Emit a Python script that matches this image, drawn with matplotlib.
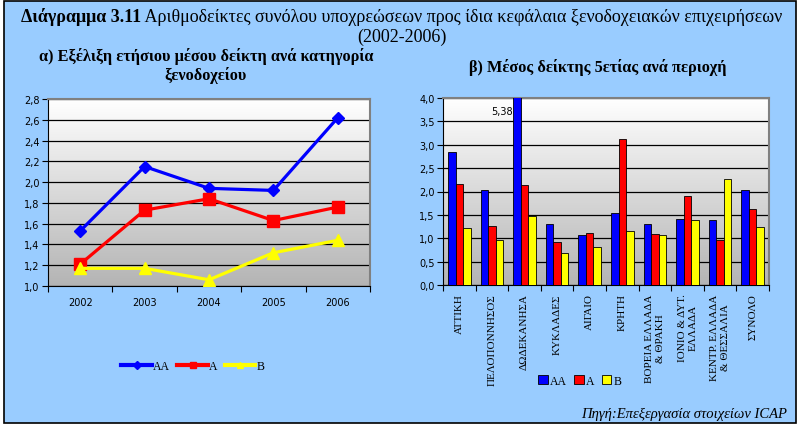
import numpy as np
import matplotlib
matplotlib.use("Agg")
import matplotlib.pyplot as plt
from matplotlib.lines import Line2D
from matplotlib.patches import Patch, Rectangle

years = ["2002", "2003", "2004", "2005", "2006"]
aa_years = [1.53, 2.15, 1.94, 1.92, 2.62]
a_years = [1.21, 1.73, 1.84, 1.63, 1.76]
b_years = [1.17, 1.17, 1.06, 1.32, 1.44]

regions = ["ΑΤΤΙΚΗ", "ΠΕΛΟΠΟΝΝΗΣΟΣ", "ΔΩΔΕΚΑΝΗΣΑ", "ΚΥΚΛΑΔΕΣ", "ΑΙΓΑΙΟ", "ΚΡΗΤΗ",
           "ΒΟΡΕΙΑ ΕΛΛΑΔΑ\n& ΘΡΑΚΗ", "ΙΟΝΙΟ & ΔΥΤ.\nΕΛΛΑΔΑ",
           "ΚΕΝΤΡ. ΕΛΛΑΔΑ\n& ΘΕΣΣΑΛΙΑ", "ΣΥΝΟΛΟ"]
aa_reg = [2.84, 2.03, 5.38, 1.30, 1.07, 1.54, 1.30, 1.41, 1.38, 2.03]
a_reg = [2.17, 1.26, 2.14, 0.93, 1.11, 3.12, 1.09, 1.91, 0.96, 1.63]
b_reg = [1.21, 0.96, 1.48, 0.68, 0.81, 1.16, 1.08, 1.40, 2.27, 1.23]

BG = "#99CCFF"
BLUE = "#0000FF"
RED = "#FF0000"
YELLOW = "#FFFF00"
SERIF = "Liberation Serif"

W, H = 803, 431
fig = plt.figure(figsize=(W / 100, H / 100), dpi=100)
fig.patch.set_facecolor("white")

# blue panel with black border, behind everything
fig.patches.append(Rectangle((4 / W, 1 - 424 / H), 792 / W, 422 / H,
                             transform=fig.transFigure, facecolor=BG,
                             edgecolor="black", lw=1.2, zorder=-10))

grad = np.linspace(1, 0, 256).reshape(-1, 1)
cmap = matplotlib.colors.LinearSegmentedColormap.from_list("g", ["#B4B4B4", "#FFFFFF"])


def style_axes(ax):
    ax.imshow(grad, cmap=cmap, extent=[0, 1, 0, 1], transform=ax.transAxes,
              aspect="auto", zorder=0, vmin=0, vmax=1)
    ax.set_facecolor("white")
    ax.yaxis.grid(True, color="black", lw=0.9, zorder=1)
    ax.set_axisbelow(True)
    for s in ["top", "right"]:
        ax.spines[s].set_color("#808080")
        ax.spines[s].set_linewidth(1.5)
    for s in ["left", "bottom"]:
        ax.spines[s].set_color("black")
    ax.tick_params(axis="both", which="both", length=4, width=0.8, labelsize=7, pad=2)


# left chart
ax1 = fig.add_axes([48 / W, 1 - 287 / H, 322 / W, 187 / H])
style_axes(ax1)
x = np.arange(len(years))
ax1.plot(x, aa_years, color=BLUE, lw=2.3, marker="D", ms=6.5, zorder=3, label="AA")
ax1.plot(x, a_years, color=RED, lw=2.3, marker="s", ms=8, zorder=3, label="A")
ax1.plot(x, b_years, color=YELLOW, lw=2.3, marker="^", ms=8, zorder=3, label="B")
ax1.set_xlim(-0.5, len(years) - 0.5)
ax1.set_ylim(1.0, 2.8)
ax1.set_yticks(np.arange(1.0, 2.81, 0.2))
ax1.set_yticklabels([f"{v:.1f}".replace(".", ",") for v in np.arange(1.0, 2.81, 0.2)])
ax1.set_xticks(x)
ax1.set_xticklabels(years)
ax1.set_xticks(np.arange(-0.5, len(years), 1), minor=True)
ax1.tick_params(axis="x", which="major", length=0, pad=8)
ax1.tick_params(axis="x", which="minor", length=4)

fig.legend(handles=[
    Line2D([], [], color=BLUE, lw=3, marker="D", ms=4),
    Line2D([], [], color=RED, lw=3, marker="s", ms=5),
    Line2D([], [], color=YELLOW, lw=3, marker="^", ms=5)],
    labels=["AA", "A", "B"], loc="center", bbox_to_anchor=(193 / W, 1 - 367 / H),
    ncol=3, frameon=False, handlelength=2.6, handletextpad=0.1, columnspacing=0.6,
    prop={"family": SERIF, "size": 8.5})

# right chart
ax2 = fig.add_axes([443 / W, 1 - 286 / H, 326 / W, 187 / H])
style_axes(ax2)
xr = np.arange(len(regions))
bw = 0.23
for off, vals, col in [(-bw, aa_reg, BLUE), (0, a_reg, RED), (bw, b_reg, YELLOW)]:
    ax2.bar(xr + off, vals, width=bw, color=col, edgecolor="black", lw=0.6, zorder=3)
ax2.set_xlim(-0.5, len(regions) - 0.5)
ax2.set_ylim(0, 4.0)
ax2.set_yticks(np.arange(0, 4.01, 0.5))
ax2.set_yticklabels([f"{v:.1f}".replace(".", ",") for v in np.arange(0, 4.01, 0.5)])
ax2.set_xticks(xr)
ax2.set_xticklabels(regions, rotation=90, fontfamily=SERIF, fontsize=8,
                    va="top", ha="center", multialignment="center")
ax2.set_xticks(np.arange(-0.5, len(regions), 1), minor=True)
ax2.tick_params(axis="x", which="major", length=0, pad=6)
ax2.tick_params(axis="x", which="minor", length=4)
ax2.text(2 - 1.5 * bw, 3.72, f"{aa_reg[2]:.2f}".replace(".", ","), ha="right",
         va="center", fontsize=7, zorder=4)

fig.legend(handles=[Patch(facecolor=c, edgecolor="black", lw=0.6) for c in (BLUE, RED, YELLOW)],
           labels=["AA", "A", "B"], loc="center", bbox_to_anchor=(580 / W, 1 - 382 / H),
           ncol=3, frameon=False, handlelength=0.8, handleheight=0.8, handletextpad=0.2,
           columnspacing=0.6, prop={"family": SERIF, "size": 8.5})

# titles
y1 = 1 - 17 / H
t1 = fig.text(0, y1, "Διάγραμμα 3.11", fontfamily=SERIF, fontsize=13,
              fontweight="bold", va="center")
t2 = fig.text(0, y1, " Αριθμοδείκτες συνόλου υποχρεώσεων προς ίδια κεφάλαια ξενοδοχειακών επιχειρήσεων",
              fontfamily=SERIF, fontsize=13, va="center")
fig.canvas.draw()
r = fig.canvas.get_renderer()
w1 = t1.get_window_extent(r).width
w2 = t2.get_window_extent(r).width
start = (402 - (w1 + w2) / 2) / W
t1.set_x(start)
t2.set_x(start + w1 / W)
fig.text(402 / W, 1 - 37 / H, "(2002-2006)", fontfamily=SERIF, fontsize=13,
         ha="center", va="center")
fig.text(206 / W, 1 - 66 / H, "α) Εξέλιξη ετήσιου μέσου δείκτη ανά κατηγορία\nξενοδοχείου",
         fontfamily=SERIF, fontsize=11.7, fontweight="bold", ha="center", va="center",
         linespacing=1.2)
fig.text(598 / W, 1 - 67 / H, "β) Μέσος δείκτης 5ετίας ανά περιοχή", fontfamily=SERIF,
         fontsize=11.7, fontweight="bold", ha="center", va="center")
fig.text(787 / W, 1 - 414 / H, "Πηγή:Επεξεργασία στοιχείων ICAP", fontfamily=SERIF,
         fontsize=10.5, fontstyle="italic", ha="right", va="center")

fig.savefig("out.png", dpi=100, facecolor=fig.get_facecolor())
